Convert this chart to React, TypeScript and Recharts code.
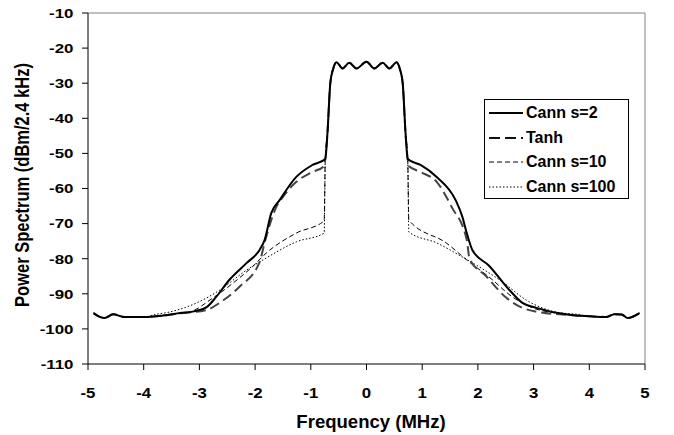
import React from 'react';
import { LineChart, Line, XAxis, YAxis, ReferenceLine } from 'recharts';

// shared pieces of the spectrum (MHz / dBm)
const leftTailFreq = [-4.9, -4.8, -4.7, -4.55, -4.35, -4.0];
const leftTailDb = [-95.5, -96.5, -96.9, -95.8, -96.6, -96.6];
const rightTailFreq = [4.0, 4.3, 4.45, 4.58, 4.69, 4.9];
const rightTailDb = [-96.4, -96.6, -95.8, -95.9, -96.9, -95.5];
const centerFreq = [-0.74, -0.7, -0.65, -0.6, -0.54, -0.43, -0.31, -0.18, 0, 0.14, 0.29, 0.41, 0.54, 0.6, 0.65, 0.7, 0.74];
const centerDb = [-51.6, -44, -30, -26, -24, -25.8, -24.2, -25.8, -23.9, -25.8, -24.2, -25.8, -24, -26, -30, -44, -51.6];

const cann2LeftFreq = [-3.6, -3.35, -3.1, -2.87, -2.7, -2.46, -2.15, -1.92, -1.83, -1.71, -1.56, -1.26, -0.97];
const cann2LeftDb = [-96.1, -95.5, -95, -93.8, -90.9, -86, -81.2, -77.5, -74.7, -67, -63.3, -56.7, -53.3];
const cann2RightFreq = [0.97, 1.26, 1.6, 1.72, 1.8, 1.9, 2.2, 2.57, 2.8, 3.05, 3.64];
const cann2RightDb = [-53.3, -56.7, -63.3, -68, -72.7, -77.5, -82, -89, -92.6, -94, -96];

const tanhLeftFreq = [-3.6, -3.36, -2.87, -2.64, -2.28, -1.92, -1.83, -1.75, -1.62, -1.5, -1.26, -0.97, -0.76];
const tanhLeftDb = [-96.1, -95.6, -94.6, -92.6, -88, -81, -75.5, -71, -65.3, -62.4, -58.1, -55.3, -53.6];
const tanhRightFreq = [0.76, 0.97, 1.26, 1.53, 1.8, 1.85, 2.15, 2.5, 2.8, 3.05, 3.6];
const tanhRightDb = [-53.6, -55.3, -58.1, -65.3, -74.7, -80, -85, -91, -94, -95.1, -96];

const cann10LeftFreq = [-3.6, -3.18, -2.76, -2.4, -2.05, -1.8, -1.26, -0.76];
const cann10LeftDb = [-96, -95.2, -91.2, -87, -82.3, -78.4, -72.7, -69.2];
const cann10RightFreq = [0.76, 1.43, 1.85, 2.2, 2.62, 2.98, 3.4];
const cann10RightDb = [-69, -75.5, -81, -85.2, -90.9, -94, -95.5];

const cann100LeftFreq = [-3.8, -3.54, -3.05, -2.64, -2.15, -1.8, -1.26, -0.76];
const cann100LeftDb = [-95.9, -95.2, -92.6, -89, -83.2, -79.8, -75.2, -72.7];
const cann100RightFreq = [0.76, 1.26, 1.72, 2.44, 2.87, 3.4, 3.8];
const cann100RightDb = [-72.4, -75.5, -79.5, -86.6, -91.8, -95.2, -95.9];

const xTicks = [-5, -4, -3, -2, -1, 0, 1, 2, 3, 4, 5];
const yTicks = [-110, -100, -90, -80, -70, -60, -50, -40, -30, -20, -10];

const build = (lf: number[], ld: number[], rf: number[], rd: number[]) => {
    const f = [...leftTailFreq, ...lf, ...centerFreq, ...rf, ...rightTailFreq];
    const d = [...leftTailDb, ...ld, ...centerDb, ...rd, ...rightTailDb];
    return f.map((x, i) => ({ x, y: d[i] }));
};

const cann2 = build(cann2LeftFreq, cann2LeftDb, cann2RightFreq, cann2RightDb);
const tanh = build(tanhLeftFreq, tanhLeftDb, tanhRightFreq, tanhRightDb);
const cann10 = build(cann10LeftFreq, cann10LeftDb, cann10RightFreq, cann10RightDb);
const cann100 = build(cann100LeftFreq, cann100LeftDb, cann100RightFreq, cann100RightDb);

const legendItems = [
    { name: 'Cann s=2', color: '#000', width: 2, dash: undefined },
    { name: 'Tanh', color: '#111', width: 2.2, dash: '11 5' },
    { name: 'Cann s=10', color: '#000', width: 1, dash: '5 3' },
    { name: 'Cann s=100', color: '#000', width: 1, dash: '1.5 2' },
];

const font = 'Liberation Sans, Arial, sans-serif';

const LegendBox = () => (
    <div style={{ position: 'absolute', left: 484, top: 99, border: '1px solid #000', background: '#fff', width: 145, height: 100, boxSizing: 'border-box', paddingTop: 1 }}>
        {legendItems.map((it) => (
            <div key={it.name} style={{ display: 'flex', alignItems: 'center', height: 24.5 }}>
                <svg width={38} height={10} style={{ marginLeft: 3 }}>
                    <line x1={1} y1={5} x2={35} y2={5} stroke={it.color} strokeWidth={it.width} strokeDasharray={it.dash} />
                </svg>
                <span style={{ fontFamily: font, fontWeight: 'bold', fontSize: 16, marginLeft: 0 }}>{it.name}</span>
            </div>
        ))}
    </div>
);

const XTick = (props: any) => {
    const { x, y, payload } = props;
    return (
        <text transform={`translate(${x},${y}) scale(1.2,1)`} textAnchor="middle" dy="0.71em" fill="#000" fontSize={14} fontWeight="bold" fontFamily={font}>
            {payload.value}
        </text>
    );
};

const YTick = (props: any) => {
    const { x, y, payload } = props;
    return (
        <text transform={`translate(${x},${y}) scale(1.25,1)`} textAnchor="end" dy="0.355em" fill="#000" fontSize={13.5} fontWeight="bold" fontFamily={font}>
            {payload.value}
        </text>
    );
};

const XTitle = () => (
    <text transform="translate(371,428) scale(1.06,1)" textAnchor="middle" fill="#000" fontSize={17.5} fontWeight="bold" fontFamily={font}>
        Frequency (MHz)
    </text>
);

const YTitle = () => (
    <text transform="translate(28.5,185) rotate(-90) scale(1,1.2)" textAnchor="middle" fill="#000" fontSize={16.5} fontWeight="bold" fontFamily={font}>
        Power Spectrum (dBm/2.4 kHz)
    </text>
);

export default function App() {
    return (
        <div style={{ position: 'absolute', left: 0, top: 0, width: 674, height: 435, background: '#fff' }}>
            <LineChart width={674} height={435} margin={{ top: 13, right: 29, left: 0, bottom: 0 }}>
                <XAxis
                    type="number"
                    dataKey="x"
                    domain={[-5, 5]}
                    ticks={xTicks}
                    allowDataOverflow
                    height={71}
                    stroke="#000"
                    tick={<XTick />}
                    tickSize={6}
                    tickMargin={18}
                    label={<XTitle />}
                />
                <YAxis
                    type="number"
                    domain={[-110, -10]}
                    ticks={yTicks}
                    allowDataOverflow
                    width={88}
                    stroke="#000"
                    tick={<YTick />}
                    tickSize={6}
                    tickMargin={8.5}
                    label={<YTitle />}
                />
                <ReferenceLine y={-10} stroke="#808080" />
                <ReferenceLine x={5} stroke="#808080" />
                <Line data={cann100} dataKey="y" name="Cann s=100" type="monotone" stroke="#000" strokeWidth={1} strokeDasharray="1.5 2" dot={false} isAnimationActive={false} />
                <Line data={cann10} dataKey="y" name="Cann s=10" type="monotone" stroke="#000" strokeWidth={1} strokeDasharray="5 3" dot={false} isAnimationActive={false} />
                <Line data={tanh} dataKey="y" name="Tanh" type="monotone" stroke="#444" strokeWidth={2} strokeDasharray="10 5" dot={false} isAnimationActive={false} />
                <Line data={cann2} dataKey="y" name="Cann s=2" type="monotone" stroke="#000" strokeWidth={2} dot={false} isAnimationActive={false} />
            </LineChart>
            <LegendBox />
        </div>
    );
}
